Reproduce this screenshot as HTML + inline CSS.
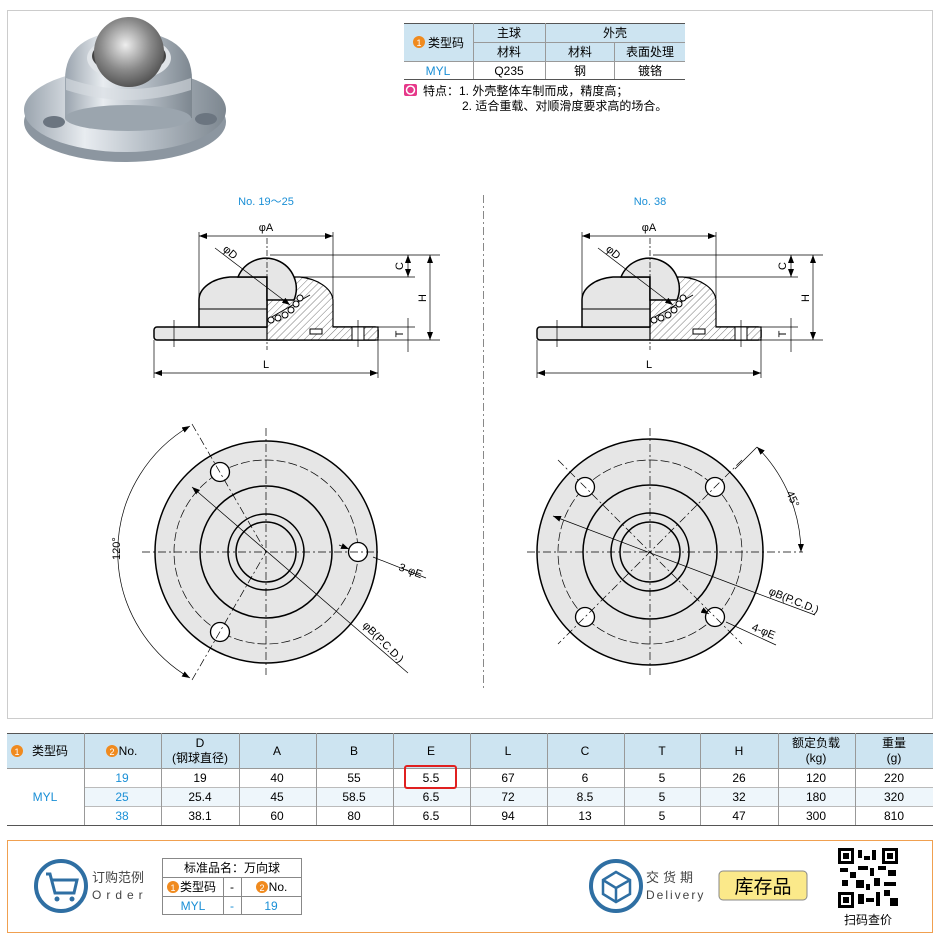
<!DOCTYPE html>
<html><head><meta charset="utf-8"><style>
body{margin:0;background:#fff;width:941px;height:946px;overflow:hidden;font-family:"Liberation Sans","Noto Sans CJK SC",sans-serif;}
svg text{font-family:"Liberation Sans","Noto Sans CJK SC",sans-serif;}
</style></head><body>
<svg width="941" height="946" viewBox="0 0 941 946" xmlns="http://www.w3.org/2000/svg">
<defs>
<pattern id="h" width="5" height="5" patternUnits="userSpaceOnUse" patternTransform="rotate(45)"><rect width="5" height="5" fill="#fff"/><line x1="0" y1="0" x2="0" y2="5" stroke="#555" stroke-width="0.8"/></pattern>
<radialGradient id="ball" cx="0.45" cy="0.4" r="0.6"><stop offset="0" stop-color="#eee"/><stop offset="0.6" stop-color="#8a8a8a"/><stop offset="1" stop-color="#555"/></radialGradient>
<linearGradient id="met" x1="0" y1="0" x2="1" y2="0"><stop offset="0" stop-color="#9aa4ae"/><stop offset="0.3" stop-color="#e8ecf0"/><stop offset="0.6" stop-color="#b8c0c8"/><stop offset="1" stop-color="#7d8790"/></linearGradient>
<marker id="a" markerWidth="8" markerHeight="6" refX="8" refY="3" orient="auto-start-reverse" markerUnits="userSpaceOnUse"><path d="M0,0 L8,3 L0,6z" fill="#000"/></marker>
</defs>
<!-- frame -->
<rect x="7.5" y="10.5" width="925" height="708" fill="none" stroke="#ccc"/>
<!-- photo -->
<ellipse cx="125" cy="122" rx="101" ry="40" fill="#8c96a0"/>
<ellipse cx="125" cy="110" rx="101" ry="42" fill="url(#met)"/>
<path d="M65 118 V80 Q65 33 128 31 Q192 33 192 80 V118z" fill="url(#met)"/>
<ellipse cx="128" cy="118" rx="63" ry="13" fill="#9ba5ae"/>
<ellipse cx="129" cy="58" rx="42" ry="22" fill="#e0e4e8"/>
<ellipse cx="129" cy="56" rx="37" ry="18" fill="#444"/>
<circle cx="129" cy="52" r="35" fill="url(#ball)"/>
<path d="M66 78 Q128 100 191 78 L191 90 Q128 110 66 90z" fill="#d8dde2" opacity="0.6"/>
<ellipse cx="54" cy="122" rx="11" ry="6" fill="#6b7580"/>
<ellipse cx="206" cy="119" rx="11" ry="6" fill="#6b7580"/>
<!-- top table -->
<g font-size="12" text-anchor="middle" fill="#000">
<rect x="404" y="23" width="281" height="38" fill="#cde4f1"/>
<line x1="404" y1="23.5" x2="685" y2="23.5" stroke="#555"/>
<line x1="404" y1="79.5" x2="685" y2="79.5" stroke="#555"/>
<line x1="404" y1="61.5" x2="685" y2="61.5" stroke="#999"/>
<line x1="473" y1="42.5" x2="685" y2="42.5" stroke="#999"/>
<line x1="473.5" y1="23" x2="473.5" y2="79" stroke="#999"/>
<line x1="545.5" y1="23" x2="545.5" y2="79" stroke="#999"/>
<line x1="614.5" y1="42" x2="614.5" y2="79" stroke="#999"/>
<circle cx="419" cy="42" r="6" fill="#f08a1e"/><text x="419" y="46" font-size="9" fill="#fff">1</text>
<text x="446" y="47">类型码</text>
<text x="509" y="37">主球</text><text x="615" y="37">外壳</text>
<text x="509" y="56">材料</text><text x="580" y="56">材料</text><text x="650" y="56">表面处理</text>
<text x="438" y="75" fill="#1a8fd6">MYL</text><text x="509" y="75">Q235</text><text x="580" y="75">钢</text><text x="650" y="75">镀铬</text>
</g>
<rect x="404" y="84" width="13" height="12" rx="2" fill="#e6388a"/><circle cx="410.5" cy="90" r="4" fill="none" stroke="#fff" stroke-width="1.5"/>
<text x="423" y="95" font-size="12">特点：1. 外壳整体车制而成，精度高；</text>
<text x="462" y="110" font-size="12">2. 适合重载、对顺滑度要求高的场合。</text>
<!-- divider -->
<line x1="483.5" y1="195" x2="483.5" y2="690" stroke="#888" stroke-dasharray="8,3,2,3"/>
<text x="266" y="205" font-size="11" fill="#1a8fd6" text-anchor="middle">No. 19～25</text>
<text x="650" y="205" font-size="11" fill="#1a8fd6" text-anchor="middle">No. 38</text>
<!-- side views -->
<g id="side" stroke="#000" fill="none">
<rect x="154" y="327" width="224" height="13" rx="3" fill="#e6e6e6" stroke-width="1.5"/>
<path d="M267 327 V340 H378 V327 H333 V300 A40 25 0 0 0 300 277 H267z" fill="url(#h)" stroke-width="1.2"/>
<path d="M199 327 V300 A35 23 0 0 1 230 277 H267 V327z" fill="#e6e6e6" stroke-width="1.5"/>
<line x1="199" y1="309" x2="267" y2="309"/>
<path d="M238 277 A30 30 0 1 1 294 300 L267 300 L267 277z" fill="#e6e6e6" stroke-width="1.5"/>
<path d="M270 318 L310 295" stroke-width="1"/>
<g fill="#fff" stroke-width="1"><circle cx="271" cy="320" r="3"/><circle cx="278" cy="318" r="3"/><circle cx="285" cy="315" r="3"/><circle cx="291" cy="310" r="3"/><circle cx="296" cy="304" r="3"/><circle cx="300" cy="298" r="3"/></g>
<rect x="310" y="329" width="12" height="5" fill="#fff"/>
<rect x="352" y="327" width="12" height="13" fill="#fff"/>
<line x1="267" y1="238" x2="267" y2="350" stroke-dasharray="6,2,2,2" stroke-width="0.7"/>
<line x1="174" y1="320" x2="174" y2="347" stroke-width="0.7"/><line x1="358" y1="320" x2="358" y2="347" stroke-width="0.7"/>
<g stroke-width="0.7">
<line x1="199" y1="232" x2="199" y2="300"/><line x1="333" y1="232" x2="333" y2="298"/>
<line x1="199" y1="236" x2="333" y2="236" marker-start="url(#a)" marker-end="url(#a)"/>
<line x1="215" y1="248" x2="290" y2="305" marker-end="url(#a)"/>
<line x1="270" y1="255" x2="440" y2="255"/><line x1="300" y1="277" x2="415" y2="277"/>
<line x1="378" y1="340" x2="440" y2="340"/><line x1="378" y1="327" x2="415" y2="327"/>
<line x1="408" y1="255" x2="408" y2="277" marker-start="url(#a)" marker-end="url(#a)"/>
<line x1="430" y1="255" x2="430" y2="340" marker-start="url(#a)" marker-end="url(#a)"/>
<line x1="408" y1="318" x2="408" y2="352"/>
<line x1="154" y1="340" x2="154" y2="378"/><line x1="378" y1="340" x2="378" y2="378"/>
<line x1="154" y1="373" x2="378" y2="373" marker-start="url(#a)" marker-end="url(#a)"/>
</g>
<g stroke="none" fill="#000" font-size="11" text-anchor="middle">
<text x="266" y="231">φA</text><text x="228" y="255" transform="rotate(40 228 255)">φD</text>
<text x="403" y="266" transform="rotate(-90 403 266)">C</text><text x="426" y="298" transform="rotate(-90 426 298)">H</text>
<text x="403" y="334" transform="rotate(-90 403 334)">T</text><text x="266" y="368">L</text>
</g>
</g>
<use href="#side" x="383"/>
<!-- left plan -->
<g stroke="#000" fill="none">
<circle cx="266" cy="552" r="111" fill="#e6e6e6" stroke-width="1.5"/>
<circle cx="266" cy="552" r="92" stroke-dasharray="9,3" stroke-width="0.7"/>
<circle cx="266" cy="552" r="66" stroke-width="1.5"/>
<circle cx="266" cy="552" r="38" stroke-width="1.5"/>
<circle cx="266" cy="552" r="30" stroke-width="1.5"/>
<g fill="#fff" stroke-width="1.3"><circle cx="358" cy="552" r="9.5"/><circle cx="220" cy="472" r="9.5"/><circle cx="220" cy="632" r="9.5"/></g>
<g stroke-width="0.7" stroke-dasharray="8,3,2,3">
<line x1="142" y1="552" x2="378" y2="552"/><line x1="266" y1="428" x2="266" y2="675"/>
<line x1="192" y1="424" x2="266" y2="552"/><line x1="192" y1="680" x2="266" y2="552"/>
</g>
<g stroke-width="0.7">
<line x1="192" y1="487" x2="408" y2="673" marker-start="url(#a)"/>
<line x1="339" y1="545" x2="349" y2="549" marker-end="url(#a)"/>
<line x1="373" y1="557" x2="426" y2="578"/>
<path d="M190 426 A146 146 0 0 0 190 678" marker-start="url(#a)" marker-end="url(#a)"/>
</g>
<g stroke="none" fill="#000" font-size="11">
<text x="398" y="570" transform="rotate(20 398 570)">3-φE</text>
<text x="362" y="626" transform="rotate(45 362 626)">φB(P.C.D.)</text>
<text x="120" y="560" transform="rotate(-90 120 560)">120°</text>
</g>
</g>
<!-- right plan -->
<g stroke="#000" fill="none">
<circle cx="650" cy="552" r="113" fill="#e6e6e6" stroke-width="1.5"/>
<circle cx="650" cy="552" r="92" stroke-dasharray="9,3" stroke-width="0.7"/>
<circle cx="650" cy="552" r="67" stroke-width="1.5"/>
<circle cx="650" cy="552" r="39" stroke-width="1.5"/>
<circle cx="650" cy="552" r="30" stroke-width="1.5"/>
<g fill="#fff" stroke-width="1.3"><circle cx="585" cy="487" r="9.5"/><circle cx="715" cy="487" r="9.5"/><circle cx="585" cy="617" r="9.5"/><circle cx="715" cy="617" r="9.5"/></g>
<g stroke-width="0.7" stroke-dasharray="8,3,2,3">
<line x1="527" y1="552" x2="803" y2="552"/><line x1="650" y1="428" x2="650" y2="675"/>
<line x1="558" y1="460" x2="742" y2="644"/><line x1="742" y1="460" x2="558" y2="644"/>
</g>
<g stroke-width="0.7">
<line x1="757" y1="447" x2="735" y2="469"/>
<line x1="553" y1="516" x2="740" y2="587" marker-start="url(#a)"/>
<line x1="740" y1="587" x2="815" y2="615"/>
<line x1="702" y1="610" x2="709" y2="614" marker-end="url(#a)"/>
<line x1="726" y1="622" x2="776" y2="645"/>
<path d="M757 447 A151 151 0 0 1 801 552" marker-start="url(#a)" marker-end="url(#a)"/>
</g>
<g stroke="none" fill="#000" font-size="11">
<text x="768" y="594" transform="rotate(22 768 594)">φB(P.C.D.)</text>
<text x="751" y="630" transform="rotate(22 751 630)">4-φE</text>
<text x="786" y="493" transform="rotate(65 786 493)">45°</text>
</g>
</g>
<!-- bottom table -->
<g font-size="12" text-anchor="middle">
<rect x="7" y="733" width="926" height="35" fill="#cde4f1"/>
<rect x="84" y="787" width="849" height="19" fill="#eef6fb"/>
<line x1="7" y1="733.5" x2="933" y2="733.5" stroke="#555"/>
<line x1="7" y1="825.5" x2="933" y2="825.5" stroke="#555"/>
<line x1="7" y1="768.5" x2="933" y2="768.5" stroke="#999"/>
<line x1="84" y1="787.5" x2="933" y2="787.5" stroke="#bbb"/>
<line x1="84" y1="806.5" x2="933" y2="806.5" stroke="#bbb"/>
<g stroke="#999">
<line x1="84.5" y1="733" x2="84.5" y2="825"/><line x1="161.5" y1="733" x2="161.5" y2="825"/><line x1="239.5" y1="733" x2="239.5" y2="825"/><line x1="316.5" y1="733" x2="316.5" y2="825"/><line x1="393.5" y1="733" x2="393.5" y2="825"/><line x1="470.5" y1="733" x2="470.5" y2="825"/><line x1="547.5" y1="733" x2="547.5" y2="825"/><line x1="624.5" y1="733" x2="624.5" y2="825"/><line x1="700.5" y1="733" x2="700.5" y2="825"/><line x1="778.5" y1="733" x2="778.5" y2="825"/><line x1="855.5" y1="733" x2="855.5" y2="825"/>
</g>
<circle cx="17" cy="751" r="6" fill="#f08a1e"/><text x="17" y="755" font-size="9" fill="#fff">1</text>
<text x="50" y="755">类型码</text>
<circle cx="112" cy="751" r="6" fill="#f08a1e"/><text x="112" y="755" font-size="9" fill="#fff">2</text>
<text x="128" y="755">No.</text>
<text x="200" y="747">D</text><text x="200" y="762">(钢球直径)</text>
<text x="277" y="755">A</text><text x="354" y="755">B</text><text x="431" y="755">E</text><text x="508" y="755">L</text><text x="585" y="755">C</text><text x="662" y="755">T</text><text x="739" y="755">H</text>
<text x="816" y="747">额定负载</text><text x="816" y="762">(kg)</text><text x="894" y="747">重量</text><text x="894" y="762">(g)</text>
<text x="45" y="801" fill="#1a8fd6">MYL</text>
<g fill="#1a8fd6"><text x="122" y="782">19</text><text x="122" y="801">25</text><text x="122" y="820">38</text></g>
<text x="200" y="782">19</text><text x="277" y="782">40</text><text x="354" y="782">55</text><text x="431" y="782">5.5</text><text x="508" y="782">67</text><text x="585" y="782">6</text><text x="662" y="782">5</text><text x="739" y="782">26</text><text x="816" y="782">120</text><text x="894" y="782">220</text>
<text x="200" y="801">25.4</text><text x="277" y="801">45</text><text x="354" y="801">58.5</text><text x="431" y="801">6.5</text><text x="508" y="801">72</text><text x="585" y="801">8.5</text><text x="662" y="801">5</text><text x="739" y="801">32</text><text x="816" y="801">180</text><text x="894" y="801">320</text>
<text x="200" y="820">38.1</text><text x="277" y="820">60</text><text x="354" y="820">80</text><text x="431" y="820">6.5</text><text x="508" y="820">94</text><text x="585" y="820">13</text><text x="662" y="820">5</text><text x="739" y="820">47</text><text x="816" y="820">300</text><text x="894" y="820">810</text>
<rect x="405" y="766" width="51" height="22" fill="none" stroke="#e02020" stroke-width="2" rx="2"/>
</g>
<!-- bottom box -->
<rect x="7.5" y="840.5" width="925" height="92" fill="none" stroke="#f0a050"/>
<circle cx="61" cy="886" r="25" fill="#fff" stroke="#2f6fa3" stroke-width="4"/>
<path d="M46 874 H50 L55 893 H74 L77 880 H52" fill="none" stroke="#2f6fa3" stroke-width="3"/>
<circle cx="57" cy="899" r="2.5" fill="#2f6fa3"/><circle cx="72" cy="899" r="2.5" fill="#2f6fa3"/>
<text x="92" y="882" font-size="13" fill="#444">订购范例</text>
<text x="92" y="899" font-size="12" fill="#444" letter-spacing="5">Order</text>
<g font-size="12" text-anchor="middle">
<rect x="162.5" y="858.5" width="139" height="56" fill="#fff" stroke="#888"/>
<line x1="162" y1="877.5" x2="301" y2="877.5" stroke="#888"/><line x1="162" y1="896.5" x2="301" y2="896.5" stroke="#888"/>
<line x1="223.5" y1="877" x2="223.5" y2="914" stroke="#888"/><line x1="241.5" y1="877" x2="241.5" y2="914" stroke="#888"/>
<text x="232" y="872">标准品名：万向球</text>
<circle cx="173" cy="887" r="6" fill="#f08a1e"/><text x="173" y="891" font-size="9" fill="#fff">1</text><text x="198" y="891">类型码</text>
<text x="232" y="891">-</text>
<circle cx="262" cy="887" r="6" fill="#f08a1e"/><text x="262" y="891" font-size="9" fill="#fff">2</text><text x="278" y="891">No.</text>
<text x="193" y="910" fill="#1a8fd6">MYL</text><text x="232" y="910" fill="#1a8fd6">-</text><text x="271" y="910" fill="#1a8fd6">19</text>
</g>
<circle cx="616" cy="886" r="25" fill="#fff" stroke="#2f6fa3" stroke-width="4"/>
<path d="M603 880 L616 872 L630 880 L630 894 L616 902 L603 894z M603 880 L616 888 L630 880 M616 888 V902" fill="none" stroke="#2f6fa3" stroke-width="2.5"/>
<text x="646" y="882" font-size="13" fill="#444" letter-spacing="4">交货期</text>
<text x="646" y="899" font-size="12" fill="#444" letter-spacing="2">Delivery</text>
<rect x="719" y="871" width="88" height="29" rx="4" fill="#fbe98a" stroke="#888"/>
<text x="763" y="893" font-size="19" text-anchor="middle">库存品</text>
<rect x="838" y="848" width="60" height="60" fill="#fff"/>
<g fill="#000">
<rect x="838" y="848" width="16" height="16"/><rect x="841" y="851" width="10" height="10" fill="#fff"/><rect x="843" y="853" width="6" height="6"/>
<rect x="882" y="848" width="16" height="16"/><rect x="885" y="851" width="10" height="10" fill="#fff"/><rect x="887" y="853" width="6" height="6"/>
<rect x="838" y="892" width="16" height="16"/><rect x="841" y="895" width="10" height="10" fill="#fff"/><rect x="843" y="897" width="6" height="6"/>
<rect x="858" y="850" width="4" height="8"/><rect x="864" y="856" width="6" height="4"/><rect x="872" y="850" width="4" height="10"/>
<rect x="840" y="868" width="8" height="4"/><rect x="850" y="872" width="6" height="6"/><rect x="858" y="866" width="10" height="4"/><rect x="870" y="868" width="4" height="8"/><rect x="878" y="866" width="8" height="4"/><rect x="888" y="870" width="8" height="6"/>
<rect x="842" y="880" width="6" height="6"/><rect x="856" y="880" width="8" height="8"/><rect x="866" y="884" width="4" height="6"/><rect x="874" y="878" width="6" height="8"/><rect x="884" y="882" width="12" height="4"/>
<rect x="858" y="894" width="6" height="10"/><rect x="866" y="898" width="8" height="4"/><rect x="876" y="892" width="4" height="14"/><rect x="884" y="890" width="6" height="6"/><rect x="890" y="898" width="8" height="8"/>
</g>
<text x="868" y="924" font-size="12" text-anchor="middle">扫码查价</text>
</svg>
</body></html>
